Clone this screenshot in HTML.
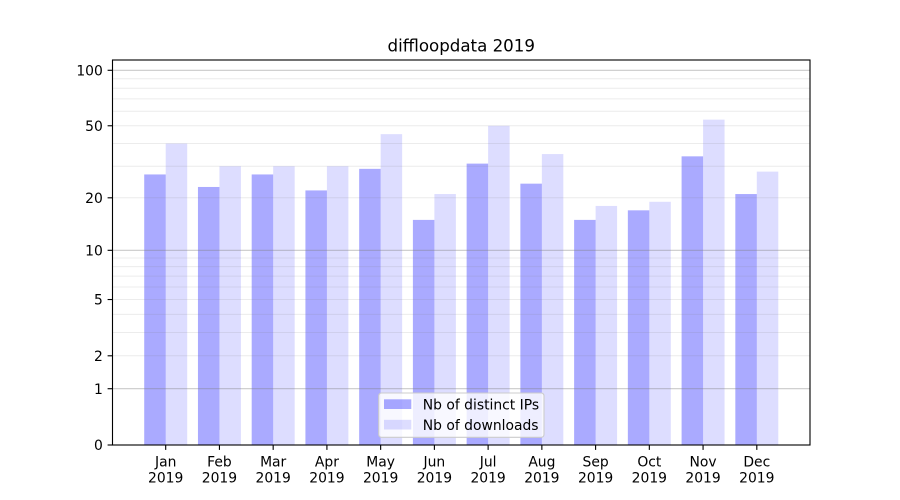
<!DOCTYPE html>
<html>
<head>
<meta charset="utf-8">
<style>
html,body{margin:0;padding:0;background:#fff;}
svg{display:block;}
text{font-family:"DejaVu Sans","Liberation Sans",sans-serif;fill:#000;}
</style>
</head>
<body>
<svg width="900" height="500" viewBox="0 0 900 500" xmlns="http://www.w3.org/2000/svg">
<rect x="0" y="0" width="900" height="500" fill="#fff"/>
<!-- bars: distinct IPs -->
<g fill="#0000ff" fill-opacity="0.333">
<rect x="144.21" y="174.45" width="21.49" height="270.55"/>
<rect x="197.95" y="186.97" width="21.49" height="258.03"/>
<rect x="251.68" y="174.45" width="21.49" height="270.55"/>
<rect x="305.42" y="190.42" width="21.49" height="254.58"/>
<rect x="359.16" y="168.85" width="21.49" height="276.15"/>
<rect x="412.90" y="219.89" width="21.49" height="225.11"/>
<rect x="466.63" y="163.61" width="21.49" height="281.39"/>
<rect x="520.37" y="183.66" width="21.49" height="261.34"/>
<rect x="574.11" y="219.89" width="21.49" height="225.11"/>
<rect x="627.84" y="210.33" width="21.49" height="234.67"/>
<rect x="681.58" y="156.34" width="21.49" height="288.66"/>
<rect x="735.32" y="194.04" width="21.49" height="250.96"/>
</g>
<!-- bars: downloads -->
<g fill="#0000ff" fill-opacity="0.133">
<rect x="165.70" y="143.49" width="21.49" height="301.51"/>
<rect x="219.44" y="166.19" width="21.49" height="278.81"/>
<rect x="273.17" y="166.19" width="21.49" height="278.81"/>
<rect x="326.91" y="166.19" width="21.49" height="278.81"/>
<rect x="380.65" y="134.15" width="21.49" height="310.85"/>
<rect x="434.39" y="194.04" width="21.49" height="250.96"/>
<rect x="488.12" y="125.77" width="21.49" height="319.23"/>
<rect x="541.86" y="154.05" width="21.49" height="290.95"/>
<rect x="595.60" y="205.94" width="21.49" height="239.06"/>
<rect x="649.33" y="201.77" width="21.49" height="243.23"/>
<rect x="703.07" y="119.64" width="21.49" height="325.36"/>
<rect x="756.81" y="171.60" width="21.49" height="273.40"/>
</g>
<!-- minor grid -->
<g stroke="#808080" stroke-opacity="0.15" stroke-width="1">
<line x1="112.5" x2="810" y1="355.80" y2="355.80"/>
<line x1="112.5" x2="810" y1="332.44" y2="332.44"/>
<line x1="112.5" x2="810" y1="314.33" y2="314.33"/>
<line x1="112.5" x2="810" y1="299.53" y2="299.53"/>
<line x1="112.5" x2="810" y1="287.01" y2="287.01"/>
<line x1="112.5" x2="810" y1="276.17" y2="276.17"/>
<line x1="112.5" x2="810" y1="266.60" y2="266.60"/>
<line x1="112.5" x2="810" y1="258.05" y2="258.05"/>
<line x1="112.5" x2="810" y1="197.81" y2="197.81"/>
<line x1="112.5" x2="810" y1="166.19" y2="166.19"/>
<line x1="112.5" x2="810" y1="143.49" y2="143.49"/>
<line x1="112.5" x2="810" y1="125.77" y2="125.77"/>
<line x1="112.5" x2="810" y1="111.23" y2="111.23"/>
<line x1="112.5" x2="810" y1="98.91" y2="98.91"/>
<line x1="112.5" x2="810" y1="88.21" y2="88.21"/>
<line x1="112.5" x2="810" y1="78.76" y2="78.76"/>
</g>
<!-- major grid -->
<g stroke="#808080" stroke-opacity="0.42" stroke-width="1.1">
<line x1="112.5" x2="810" y1="388.72" y2="388.72"/>
<line x1="112.5" x2="810" y1="250.31" y2="250.31"/>
<line x1="112.5" x2="810" y1="70.29" y2="70.29"/>
</g>
<!-- legend -->
<rect x="378.7" y="393" width="165.3" height="44.3" rx="2.8" ry="2.8" fill="#fff" fill-opacity="0.8" stroke="#cccccc" stroke-width="1.1"/>
<rect x="384" y="399.3" width="27.3" height="9.7" fill="#0000ff" fill-opacity="0.333"/>
<rect x="384" y="419.8" width="27.3" height="9.7" fill="#0000ff" fill-opacity="0.133"/>
<text x="422.8" y="409.3" font-size="13.89">Nb of distinct IPs</text>
<text x="422.8" y="429.8" font-size="13.89">Nb of downloads</text>
<!-- spines -->
<rect x="112.5" y="60" width="697.5" height="385" fill="none" stroke="#000" stroke-width="1.11"/>
<!-- y ticks -->
<g stroke="#000" stroke-width="1.11">
<line x1="107.6" x2="112.5" y1="445" y2="445"/>
<line x1="107.6" x2="112.5" y1="388.72" y2="388.72"/>
<line x1="107.6" x2="112.5" y1="355.80" y2="355.80"/>
<line x1="107.6" x2="112.5" y1="299.53" y2="299.53"/>
<line x1="107.6" x2="112.5" y1="250.31" y2="250.31"/>
<line x1="107.6" x2="112.5" y1="197.81" y2="197.81"/>
<line x1="107.6" x2="112.5" y1="125.77" y2="125.77"/>
<line x1="107.6" x2="112.5" y1="70.29" y2="70.29"/>
</g>
<g font-size="13.89" text-anchor="end">
<text x="102.8" y="450.1">0</text>
<text x="102.8" y="393.8">1</text>
<text x="102.8" y="360.9">2</text>
<text x="102.8" y="304.6">5</text>
<text x="102.8" y="255.4">10</text>
<text x="102.8" y="202.9">20</text>
<text x="102.8" y="130.9">50</text>
<text x="102.8" y="75.4">100</text>
</g>
<!-- x ticks -->
<g stroke="#000" stroke-width="1.11">
<line x1="165.70" x2="165.70" y1="445" y2="449.9"/>
<line x1="219.44" x2="219.44" y1="445" y2="449.9"/>
<line x1="273.17" x2="273.17" y1="445" y2="449.9"/>
<line x1="326.91" x2="326.91" y1="445" y2="449.9"/>
<line x1="380.65" x2="380.65" y1="445" y2="449.9"/>
<line x1="434.39" x2="434.39" y1="445" y2="449.9"/>
<line x1="488.12" x2="488.12" y1="445" y2="449.9"/>
<line x1="541.86" x2="541.86" y1="445" y2="449.9"/>
<line x1="595.60" x2="595.60" y1="445" y2="449.9"/>
<line x1="649.33" x2="649.33" y1="445" y2="449.9"/>
<line x1="703.07" x2="703.07" y1="445" y2="449.9"/>
<line x1="756.81" x2="756.81" y1="445" y2="449.9"/>
</g>
<g font-size="13.89" text-anchor="middle">
<text x="165.70" y="466.5">Jan</text><text x="165.70" y="482.6">2019</text>
<text x="219.44" y="466.5">Feb</text><text x="219.44" y="482.6">2019</text>
<text x="273.17" y="466.5">Mar</text><text x="273.17" y="482.6">2019</text>
<text x="326.91" y="466.5">Apr</text><text x="326.91" y="482.6">2019</text>
<text x="380.65" y="466.5">May</text><text x="380.65" y="482.6">2019</text>
<text x="434.39" y="466.5">Jun</text><text x="434.39" y="482.6">2019</text>
<text x="488.12" y="466.5">Jul</text><text x="488.12" y="482.6">2019</text>
<text x="541.86" y="466.5">Aug</text><text x="541.86" y="482.6">2019</text>
<text x="595.60" y="466.5">Sep</text><text x="595.60" y="482.6">2019</text>
<text x="649.33" y="466.5">Oct</text><text x="649.33" y="482.6">2019</text>
<text x="703.07" y="466.5">Nov</text><text x="703.07" y="482.6">2019</text>
<text x="756.81" y="466.5">Dec</text><text x="756.81" y="482.6">2019</text>
</g>
<!-- title -->
<text x="461.25" y="51.7" font-size="16.67" text-anchor="middle">diffloopdata 2019</text>
</svg>
</body>
</html>
